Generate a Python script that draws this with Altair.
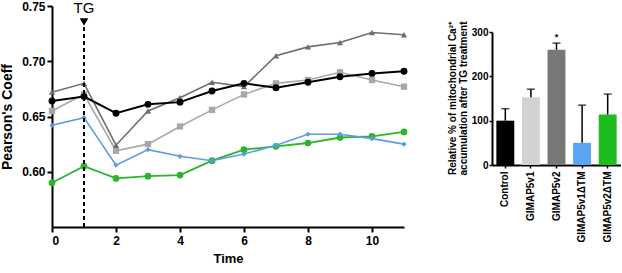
import altair as alt
import pandas as pd

FONT = "Liberation Sans"

# ---- time course of Pearson's coefficient ----
time = list(range(12))
control = [0.664, 0.668, 0.653, 0.661, 0.663, 0.673, 0.680, 0.676, 0.681, 0.686, 0.689, 0.691]
gimap5v1 = [0.655, 0.670, 0.619, 0.625, 0.641, 0.656, 0.670, 0.680, 0.683, 0.690, 0.683, 0.677]
gimap5v2 = [0.672, 0.680, 0.624, 0.655, 0.667, 0.681, 0.677, 0.705, 0.713, 0.717, 0.726, 0.724]
gimap5v1_dtm = [0.642, 0.649, 0.606, 0.620, 0.614, 0.610, 0.616, 0.624, 0.634, 0.634, 0.630, 0.625]
gimap5v2_dtm = [0.590, 0.605, 0.594, 0.596, 0.597, 0.610, 0.620, 0.623, 0.626, 0.631, 0.632, 0.636]

x_ticks = [0, 2, 4, 6, 8, 10]
y_ticks = [0.60, 0.65, 0.70, 0.75]

# ---- relative mitochondrial Ca2+ accumulation ----
groups = ["Control", "GIMAP5v1", "GIMAP5v2", "GIMAP5v1ΔTM", "GIMAP5v2ΔTM"]
rel_ca = [100, 153, 260, 50, 114]
rel_ca_err = [127, 171, 275, 135, 160]
bar_colors = ["#000000", "#d2d2d2", "#787878", "#5ba4f5", "#1ebd1e"]

# series: (values, colour, marker shape, marker size, stroke width) — drawn back to front
series = [
    (gimap5v2_dtm, "#2bb52b", "circle", 45, 1.8),
    (gimap5v1_dtm, "#5b9ce6", "diamond", 28, 1.6),
    (gimap5v1, "#a8a8a8", "square", 40, 1.6),
    (gimap5v2, "#6e6e6e", "triangle-up", 38, 1.6),
    (control, "#000000", "circle", 48, 2.0),
]

x_scale = alt.Scale(domain=[0, 11], nice=False)
y_scale = alt.Scale(domain=[0.55, 0.75], nice=False, zero=False)

x_axis = alt.Axis(values=x_ticks, title="Time", format="d", labelFont=FONT,
                  labelFontSize=12, labelFontWeight="bold", labelPadding=3,
                  titleFont=FONT, titleFontSize=13, titleFontWeight="bold",
                  titlePadding=6, tickSize=5, tickWidth=2, domainWidth=2,
                  domainColor="black", tickColor="black", grid=False,
                  labelColor="black", titleColor="black")
y_axis = alt.Axis(values=y_ticks, title="Pearson's Coeff", format=".2f",
                  labelFont=FONT, labelFontSize=12, labelFontWeight="bold",
                  labelPadding=2, titleFont=FONT, titleFontSize=14,
                  titleFontWeight="bold", titlePadding=7, tickSize=5,
                  tickWidth=2, domainWidth=2, domainColor="black",
                  tickColor="black", grid=False, labelColor="black",
                  titleColor="black")


def xq(field):
    return alt.X(field, type="quantitative", scale=x_scale, axis=x_axis)


def yq(field):
    return alt.Y(field, type="quantitative", scale=y_scale, axis=y_axis)


layers = []
for vals, color, shape, size, sw in series:
    df = pd.DataFrame({"t": time, "v": vals})
    base = alt.Chart(df).encode(x=xq("t"), y=yq("v"))
    layers.append(base.mark_line(color=color, strokeWidth=sw))
    layers.append(base.mark_point(color=color, fill=color, filled=True,
                                  opacity=1, shape=shape, size=size))

# thapsigargin addition marker
tg_time = 1
tg_line = alt.Chart(pd.DataFrame({"t": [tg_time], "y0": [0.55], "y1": [0.733]})).mark_rule(
    color="black", strokeWidth=2, strokeDash=[4, 3]
).encode(x=xq("t"), y=yq("y0"), y2="y1:Q")
tg_arrow = alt.Chart(pd.DataFrame({"t": [tg_time], "y": [0.7355]})).mark_point(
    shape="triangle-down", filled=True, color="black", opacity=1, size=75
).encode(x=xq("t"), y=yq("y"))
tg_text = alt.Chart(pd.DataFrame({"t": [tg_time], "y": [0.748], "label": ["TG"]})).mark_text(
    font=FONT, fontSize=15, color="black", baseline="middle", align="center"
).encode(x=xq("t"), y=yq("y"), text="label:N")

left = alt.layer(*layers, tg_line, tg_arrow, tg_text).properties(width=352, height=221)

# ---- bar chart ----
bar_df = pd.DataFrame({"g": groups, "v": rel_ca, "e": rel_ca_err, "c": bar_colors})
bx_scale = alt.Scale(paddingInner=0.3, paddingOuter=0.17)
bx_axis = alt.Axis(title=None, labelAngle=-90, labelFont=FONT,
                   labelFontSize=10, labelFontWeight="bold", labelPadding=3,
                   tickSize=3, tickWidth=1.5, domainWidth=2,
                   domainColor="black", tickColor="black", labelColor="black")
by_scale = alt.Scale(domain=[0, 300], range=[159, 26], nice=False)
by_axis = alt.Axis(values=[0, 100, 200, 300],
                   title=["Relative % of mitochondrial Ca²⁺",
                          "accumulation after TG treatment"],
                   labelFont=FONT, labelFontSize=10, labelFontWeight="bold",
                   labelPadding=1, tickSize=3, tickWidth=1.5,
                   domainWidth=2, domainColor="black", tickColor="black",
                   titleFont=FONT, titleFontSize=10, titleFontWeight="bold",
                   titleLineHeight=11, titlePadding=3, titleY=92,
                   grid=False, labelColor="black", titleColor="black")


def bxn():
    return alt.X("g:N", sort=groups, scale=bx_scale, axis=bx_axis)


def byq(field):
    return alt.Y(field, type="quantitative", scale=by_scale, axis=by_axis)


bars = alt.Chart(bar_df).mark_bar().encode(
    x=bxn(), y=byq("v"), color=alt.Color("c:N", scale=None)
)
err_rule = alt.Chart(bar_df).mark_rule(color="black", strokeWidth=1.5).encode(
    x=bxn(), y=byq("v"), y2="e:Q"
)
err_cap = alt.Chart(bar_df).mark_tick(color="black", thickness=1.5, size=8,
                                      orient="horizontal").encode(
    x=bxn(), y=byq("e")
)
star_df = pd.DataFrame({"g": ["GIMAP5v2"], "y": [288], "s": ["*"]})
star = alt.Chart(star_df).mark_text(font=FONT, fontSize=9, fontWeight="bold",
                                    color="black", baseline="middle").encode(
    x=bxn(), y=byq("y"), text="s:N"
)

right = alt.layer(bars, err_rule, err_cap, star).properties(width=129, height=159)

chart = alt.hconcat(left, right, spacing=88, bounds="flush").properties(
    padding={"left": 0, "top": 0, "right": 0, "bottom": 0}
).configure_view(stroke=None)

chart.save("out.html", embed_options={"renderer": "svg", "actions": False})
